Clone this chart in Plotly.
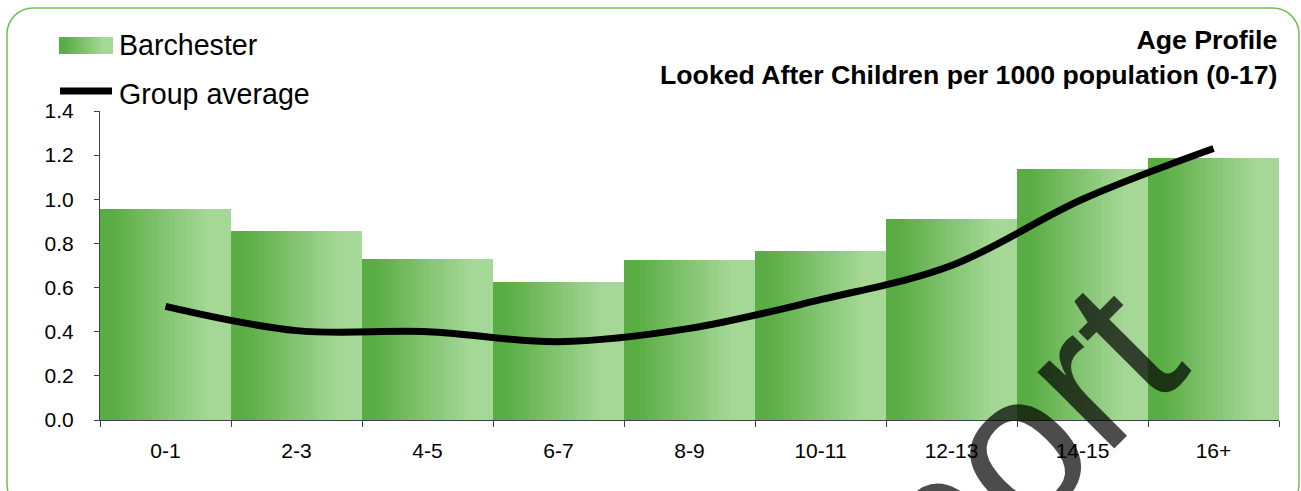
import plotly.graph_objects as go

# ---- data ----
categories = ["0-1", "2-3", "4-5", "6-7", "8-9", "10-11", "12-13", "14-15", "16+"]
barchester = [0.956, 0.856, 0.730, 0.625, 0.725, 0.766, 0.911, 1.137, 1.187]
group_average = [0.515, 0.405, 0.400, 0.355, 0.415, 0.545, 0.700, 1.000, 1.230]
y_ticks = [0.0, 0.2, 0.4, 0.6, 0.8, 1.0, 1.2, 1.4]
title_lines = ["Age Profile", "Looked After Children per 1000 population (0-17)"]
series_names = ["Barchester", "Group average"]
watermark = "Report"

# ---- layout geometry (pixels) ----
W, H = 1301, 491
ML, MR, MT, MB = 100, 22, 111, 71
PW, PH = W - ML - MR, H - MT - MB

def px_x(px):
    return (px - ML) / PW

def px_y(py):
    return (H - MB - py) / PH

FONT = "Arial, 'Liberation Sans', sans-serif"
DARK = (0x5a, 0xad, 0x44)
LIGHT = (0xa5, 0xd7, 0x96)

def grad_color(t):
    # dark on the left, light on the right
    a, b = 0.10, 0.82
    if t <= a:
        f = 0.0
    elif t >= b:
        f = 1.0
    else:
        f = (t - a) / (b - a)
    r = [round(DARK[k] + (LIGHT[k] - DARK[k]) * f) for k in range(3)]
    return "rgb(%d,%d,%d)" % tuple(r)

fig = go.Figure()

# gradient bars built from overlapping strips (each strip runs to the bar's right edge)
N = 40
for i in range(N):
    off = -0.5 + i / N
    fig.add_trace(go.Bar(
        x=categories, y=barchester,
        width=[(N - i) / N] * len(categories),
        offset=off,
        marker=dict(color=grad_color((i + 0.5) / N), line=dict(width=0)),
        showlegend=False, hoverinfo="skip",
    ))

fig.add_trace(go.Scatter(
    x=categories, y=group_average, mode="lines",
    line=dict(color="black", width=7, shape="spline", smoothing=1.0),
    name=series_names[1], showlegend=False,
))

shapes = []
annotations = []

# rounded border
x0, x1, y0, y1, r = 7, 1299, 8, 510, 26
k = 0.45
pts = [
    ("M", [(x0 + r, y0)]),
    ("L", [(x1 - r, y0)]),
    ("C", [(x1 - r * k, y0), (x1, y0 + r * k), (x1, y0 + r)]),
    ("L", [(x1, y1 - r)]),
    ("C", [(x1, y1 - r * k), (x1 - r * k, y1), (x1 - r, y1)]),
    ("L", [(x0 + r, y1)]),
    ("C", [(x0 + r * k, y1), (x0, y1 - r * k), (x0, y1 - r)]),
    ("L", [(x0, y0 + r)]),
    ("C", [(x0, y0 + r * k), (x0 + r * k, y0), (x0 + r, y0)]),
]
path = ""
for cmd, ps in pts:
    path += cmd + " " + " ".join("%.5f,%.5f" % (px_x(a), px_y(b)) for a, b in ps) + " "
path += "Z"
shapes.append(dict(type="path", xref="paper", yref="paper", path=path,
                   line=dict(color="#72bf55", width=1.5), fillcolor="rgba(0,0,0,0)", layer="below"))

# legend: gradient swatch
sx0, sx1, sy0, sy1 = 59, 113, 37, 54
NS = 27
for i in range(NS):
    a = sx0 + (sx1 - sx0) * i / NS
    shapes.append(dict(type="rect", xref="paper", yref="paper",
                       x0=px_x(a), x1=px_x(sx1), y0=px_y(sy1), y1=px_y(sy0),
                       fillcolor=grad_color((i + 0.5) / NS), line=dict(width=0)))
# legend: line swatch
shapes.append(dict(type="line", xref="paper", yref="paper",
                   x0=px_x(60), x1=px_x(112), y0=px_y(91), y1=px_y(91),
                   line=dict(color="black", width=7)))
for name, cy in zip(series_names, [45, 94]):
    annotations.append(dict(text=name, xref="paper", yref="paper", x=px_x(117), y=px_y(cy),
                            xanchor="left", yanchor="middle", showarrow=False,
                            font=dict(family=FONT, size=28.6, color="black")))

# title
annotations.append(dict(text="<br>".join("<b>%s</b>" % t for t in title_lines),
                        xref="paper", yref="paper", x=px_x(1279), y=px_y(58),
                        xanchor="right", yanchor="middle", align="right", showarrow=False,
                        font=dict(family=FONT, size=26.7, color="black")))

# watermark
annotations.append(dict(text=watermark, xref="paper", yref="paper", x=px_x(924), y=px_y(537),
                        xanchor="center", yanchor="middle", showarrow=False, textangle=-45,
                        font=dict(family=FONT, size=205, color="rgba(0,0,0,0.7)")))

fig.update_layout(
    width=W, height=H,
    margin=dict(l=ML, r=MR, t=MT, b=MB),
    paper_bgcolor="white", plot_bgcolor="rgba(0,0,0,0)",
    barmode="overlay", bargap=0,
    font=dict(family=FONT, size=21, color="black"),
    shapes=shapes, annotations=annotations,
    showlegend=False,
)
fig.update_xaxes(
    type="category", showgrid=False, showline=True, linecolor="#404040", linewidth=1.2,
    ticks="outside", tickson="boundaries", ticklen=6, tickcolor="#404040",
    tickfont=dict(family=FONT, size=21, color="black"), ticklabelstandoff=12,
)
fig.update_yaxes(
    range=[0, 1.4], tickvals=y_ticks, tickformat=".1f", showgrid=False, zeroline=False,
    showline=True, linecolor="#404040", linewidth=1.2,
    ticks="outside", ticklen=5, tickcolor="#404040",
    tickfont=dict(family=FONT, size=21, color="black"), ticklabelstandoff=16,
)

fig.write_html("out.html", config={"displayModeBar": False},
               post_script="document.body.style.margin='0';document.body.style.overflow='hidden';")
